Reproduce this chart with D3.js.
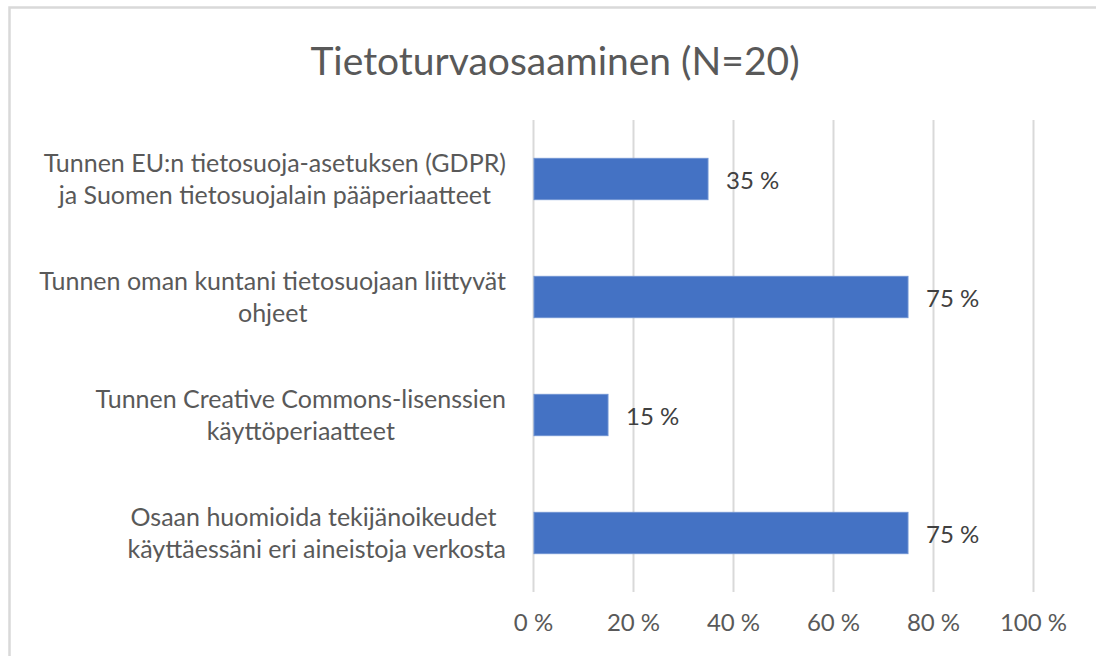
<!DOCTYPE html>
<html>
<head>
<meta charset="utf-8">
<script src="https://cdn.jsdelivr.net/npm/d3@7"></script>
<style>
  html, body { margin: 0; padding: 0; background: #fff; }
  text { font-family: Lato, "Open Sans", sans-serif; }
</style>
</head>
<body>
<script>

var width = 1096,
    height = 656;

// data
var categories = [
  ['Tunnen EU:n tietosuoja-asetuksen (GDPR)', 'ja Suomen tietosuojalain pääperiaatteet'],
  ['Tunnen oman kuntani tietosuojaan liittyvät', 'ohjeet'],
  ['Tunnen Creative Commons-lisenssien', 'käyttöperiaatteet'],
  ['Osaan huomioida tekijänoikeudet ', 'käyttäessäni eri aineistoja verkosta']
];
var values = [35, 75, 15, 75];
var xTicks = [0, 20, 40, 60, 80, 100];
var title = 'Tietoturvaosaaminen (N=20)';

var margin = {top: 120, right: 63, bottom: 64, left: 533};

var svg = d3.select('body')
  .append('svg')
  .attr('width', width)
  .attr('height', height);

// chart frame (cut off at right and bottom like the screenshot)
svg.append('rect')
  .attr('x', 9.5)
  .attr('y', 7.5)
  .attr('width', width + 20)
  .attr('height', height + 20)
  .attr('fill', '#fff')
  .attr('stroke', '#d9d9d9')
  .attr('stroke-width', 2.5);

svg.append('text')
  .attr('x', 555)
  .attr('y', 75)
  .attr('text-anchor', 'middle')
  .attr('fill', '#595959')
  .style('font-size', '39px')
  .text(title);

var x = d3.scaleLinear()
  .domain([0, 100])
  .range([margin.left, width - margin.right]);

var y = d3.scaleBand()
  .domain(d3.range(categories.length))
  .range([margin.top, height - margin.bottom])
  .paddingInner(0.65)
  .paddingOuter(0.325);

// gridlines + tick labels
var xAxis = d3.axisBottom(x)
  .tickValues(xTicks)
  .tickSize(-(height - margin.bottom - margin.top))
  .tickPadding(16)
  .tickFormat(function(d) { return d + ' %'; });

var gx = svg.append('g')
  .attr('transform', 'translate(0,' + (height - margin.bottom) + ')')
  .call(xAxis);

gx.select('.domain').remove();
gx.selectAll('.tick line')
  .attr('stroke', '#d9d9d9')
  .attr('stroke-width', 2);
gx.selectAll('.tick text')
  .attr('fill', '#595959')
  .attr('dy', '0.95em')
  .style('font-size', '24px');

// bars
svg.append('g')
  .selectAll('rect')
  .data(values)
  .enter()
  .append('rect')
  .attr('x', x(0) + 1)
  .attr('y', function(d, i) { return y(i); })
  .attr('width', function(d) { return x(d) - x(0) - 1; })
  .attr('height', y.bandwidth())
  .attr('fill', '#4472c4')
  .attr('stroke', '#6f93d3')
  .attr('stroke-width', 1);

// value labels
svg.append('g')
  .selectAll('text')
  .data(values)
  .enter()
  .append('text')
  .attr('x', function(d) { return x(d) + 18; })
  .attr('y', function(d, i) { return y(i) + y.bandwidth() / 2; })
  .attr('dy', '0.4em')
  .attr('fill', '#404040')
  .style('font-size', '24px')
  .text(function(d) { return d + ' %'; });

// category labels: lines centred on each other, block right-aligned near the axis
var labelRight = margin.left - 27;
var lineGap = 32;

var cat = svg.append('g')
  .selectAll('g')
  .data(categories)
  .enter()
  .append('g');

cat.each(function(lines, i) {
  var g = d3.select(this);
  var cy = y(i) + y.bandwidth() / 2;
  var texts = g.selectAll('text')
    .data(lines)
    .enter()
    .append('text')
    .attr('y', function(d, j) { return cy + (j - (lines.length - 1) / 2) * lineGap; })
    .attr('dy', '0.35em')
    .attr('text-anchor', 'middle')
    .attr('fill', '#595959')
    .attr('xml:space', 'preserve')
    .style('white-space', 'pre')
    .style('font-size', '25px')
    .text(function(d) { return d; });
  var maxW = d3.max(texts.nodes(), function(n) { return n.getComputedTextLength(); });
  texts.attr('x', labelRight - maxW / 2);
});

</script>
</body>
</html>
